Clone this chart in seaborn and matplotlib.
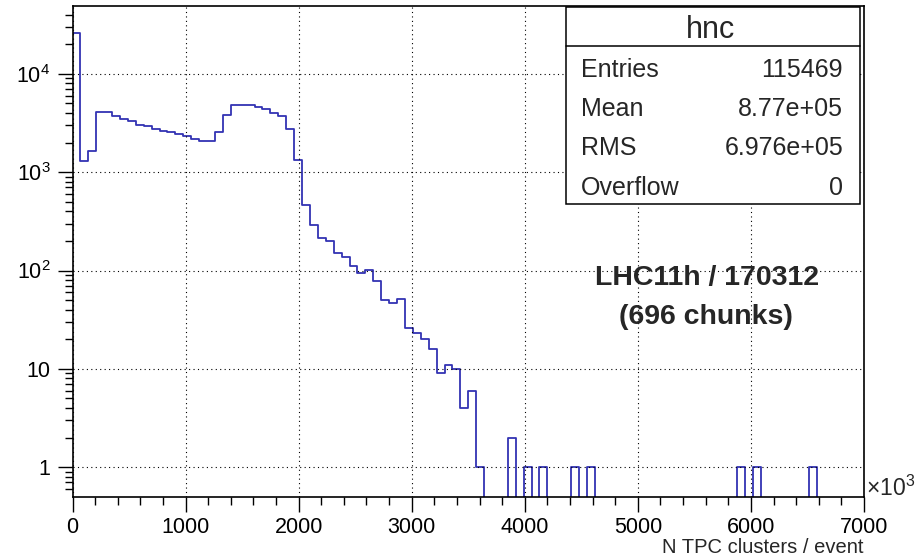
import numpy as np
import pandas as pd
import matplotlib
matplotlib.use("Agg")
import matplotlib.pyplot as plt
from matplotlib.patches import Rectangle
from matplotlib.ticker import FixedLocator, MultipleLocator, LogLocator, NullFormatter
import seaborn as sns

# ---- data ----
x_min, x_max, n_bins = 0, 7000, 100          # units of 10^3 clusters
counts = [25900, 1290, 1640, 4120, 4120, 3730, 3500, 3340, 3020, 2930,
          2750, 2640, 2560, 2460, 2330, 2160, 2070, 2070, 2560, 3840,
          4860, 4860, 4860, 4600, 4430, 3970, 3730, 2750, 1340, 462,
          287, 212, 199, 151, 137, 111, 95, 101, 79, 50,
          47, 51, 26, 23, 20, 16, 9, 11, 10, 4,
          6, 1, 0, 0, 0, 2, 0, 1, 0, 1,
          0, 0, 0, 1, 0, 1, 0, 0, 0, 0,
          0, 0, 0, 0, 0, 0, 0, 0, 0, 0,
          0, 0, 0, 0, 1, 0, 1, 0, 0, 0,
          0, 0, 0, 1, 0, 0, 0, 0, 0, 0]
x_ticks = [0, 1000, 2000, 3000, 4000, 5000, 6000, 7000]
y_ticks = [1, 10, 100, 1000, 10000]
y_tick_labels = ["1", "10", "$10^{2}$", "$10^{3}$", "$10^{4}$"]
stats_title = "hnc"
stats_names = ["Entries", "Mean", "RMS", "Overflow"]
stats_values = ["115469", "8.77e+05", "6.976e+05", "0"]
note_lines = ["LHC11h / 170312", "(696 chunks)"]
x_label = "N TPC clusters / event"

edges = np.linspace(x_min, x_max, n_bins + 1)
centers = 0.5 * (edges[:-1] + edges[1:])
df = pd.DataFrame({"center": centers, "count": np.asarray(counts, dtype=float)})

sns.set_style("white")
plt.rcParams["font.family"] = ["Liberation Sans", "DejaVu Sans"]
plt.rcParams["mathtext.fontset"] = "custom"
plt.rcParams["mathtext.rm"] = "Liberation Sans"
plt.rcParams["mathtext.it"] = "Liberation Sans:italic"
plt.rcParams["mathtext.bf"] = "Liberation Sans:bold"

W, H = 918, 556
fig = plt.figure(figsize=(W / 100, H / 100), dpi=100)
fig.patch.set_facecolor("white")

L, R, T, B = 72.5, 864.0, 6.0, 496.5
ax = fig.add_axes([L / W, 1 - B / H, (R - L) / W, (B - T) / H])

def fx(px):
    return px / W

def fy(py):
    return 1 - py / H

sns.histplot(data=df, x="center", weights="count", bins=n_bins,
             binrange=(x_min, x_max), element="step", fill=False,
             color="#3333b3", linewidth=1.3, ax=ax)
ax.set_yscale("log")
ax.set_xlim(x_min, x_max)
ax.set_ylim(0.503, 49000)
ax.set_xlabel("")
ax.set_ylabel("")

ax.xaxis.set_major_locator(FixedLocator(x_ticks))
ax.xaxis.set_minor_locator(MultipleLocator(200))
ax.set_xticklabels([str(v) for v in x_ticks])
ax.yaxis.set_major_locator(FixedLocator(y_ticks))
ax.yaxis.set_minor_locator(LogLocator(base=10, subs=np.arange(2, 10)))
ax.yaxis.set_minor_formatter(NullFormatter())
ax.set_yticklabels(y_tick_labels)

ax.tick_params(axis="both", which="both", bottom=True, left=True,
               top=False, right=False)
ax.tick_params(axis="both", which="major", direction="out", length=11, width=1,
               labelsize=15.5, color="black", labelcolor="black")
ax.tick_params(axis="both", which="minor", direction="out", length=5.5, width=1,
               color="black")
ax.tick_params(axis="x", which="major", pad=4)
ax.tick_params(axis="y", which="major", pad=5)

for s in ax.spines.values():
    s.set_visible(True)
    s.set_color("black")
    s.set_linewidth(1.2)

ax.grid(True, which="major", axis="both", color="black",
        linestyle=(0, (1, 3)), linewidth=0.8)
ax.set_axisbelow(False)

# x label and x10^3 multiplier
fig.text(fx(864), fy(553), x_label, ha="right", va="baseline", fontsize=14.5)
fig.text(fx(866), fy(488), r"$\times10^{3}$", ha="left", va="center", fontsize=16.5)

# annotation
fig.text(fx(707), fy(278), note_lines[0], ha="center", va="center",
         fontsize=20.5, fontweight="bold")
fig.text(fx(706), fy(317), note_lines[1], ha="center", va="center",
         fontsize=20.5, fontweight="bold")

# stats box
bx0, bx1, by0, by1, bsep = 566, 860, 7, 204, 45.5
fig.patches.append(Rectangle((fx(bx0), fy(by1)), fx(bx1) - fx(bx0), fy(by0) - fy(by1),
                             transform=fig.transFigure, facecolor="white",
                             edgecolor="black", linewidth=1.1, zorder=10))
fig.lines.append(plt.Line2D([fx(bx0), fx(bx1)], [fy(bsep), fy(bsep)],
                            transform=fig.transFigure, color="black",
                            linewidth=1.1, zorder=11))
fig.text(fx(711), fy(38.5), stats_title, ha="center", va="baseline",
         fontsize=22, zorder=12)
row_base = [76.7, 116.0, 155.5, 195.0]
for name, val, yb in zip(stats_names, stats_values, row_base):
    fig.text(fx(581), fy(yb), name, ha="left", va="baseline", fontsize=18, zorder=12)
    fig.text(fx(843), fy(yb), val, ha="right", va="baseline", fontsize=18, zorder=12)

fig.savefig("out.png", dpi=100, facecolor="white")
